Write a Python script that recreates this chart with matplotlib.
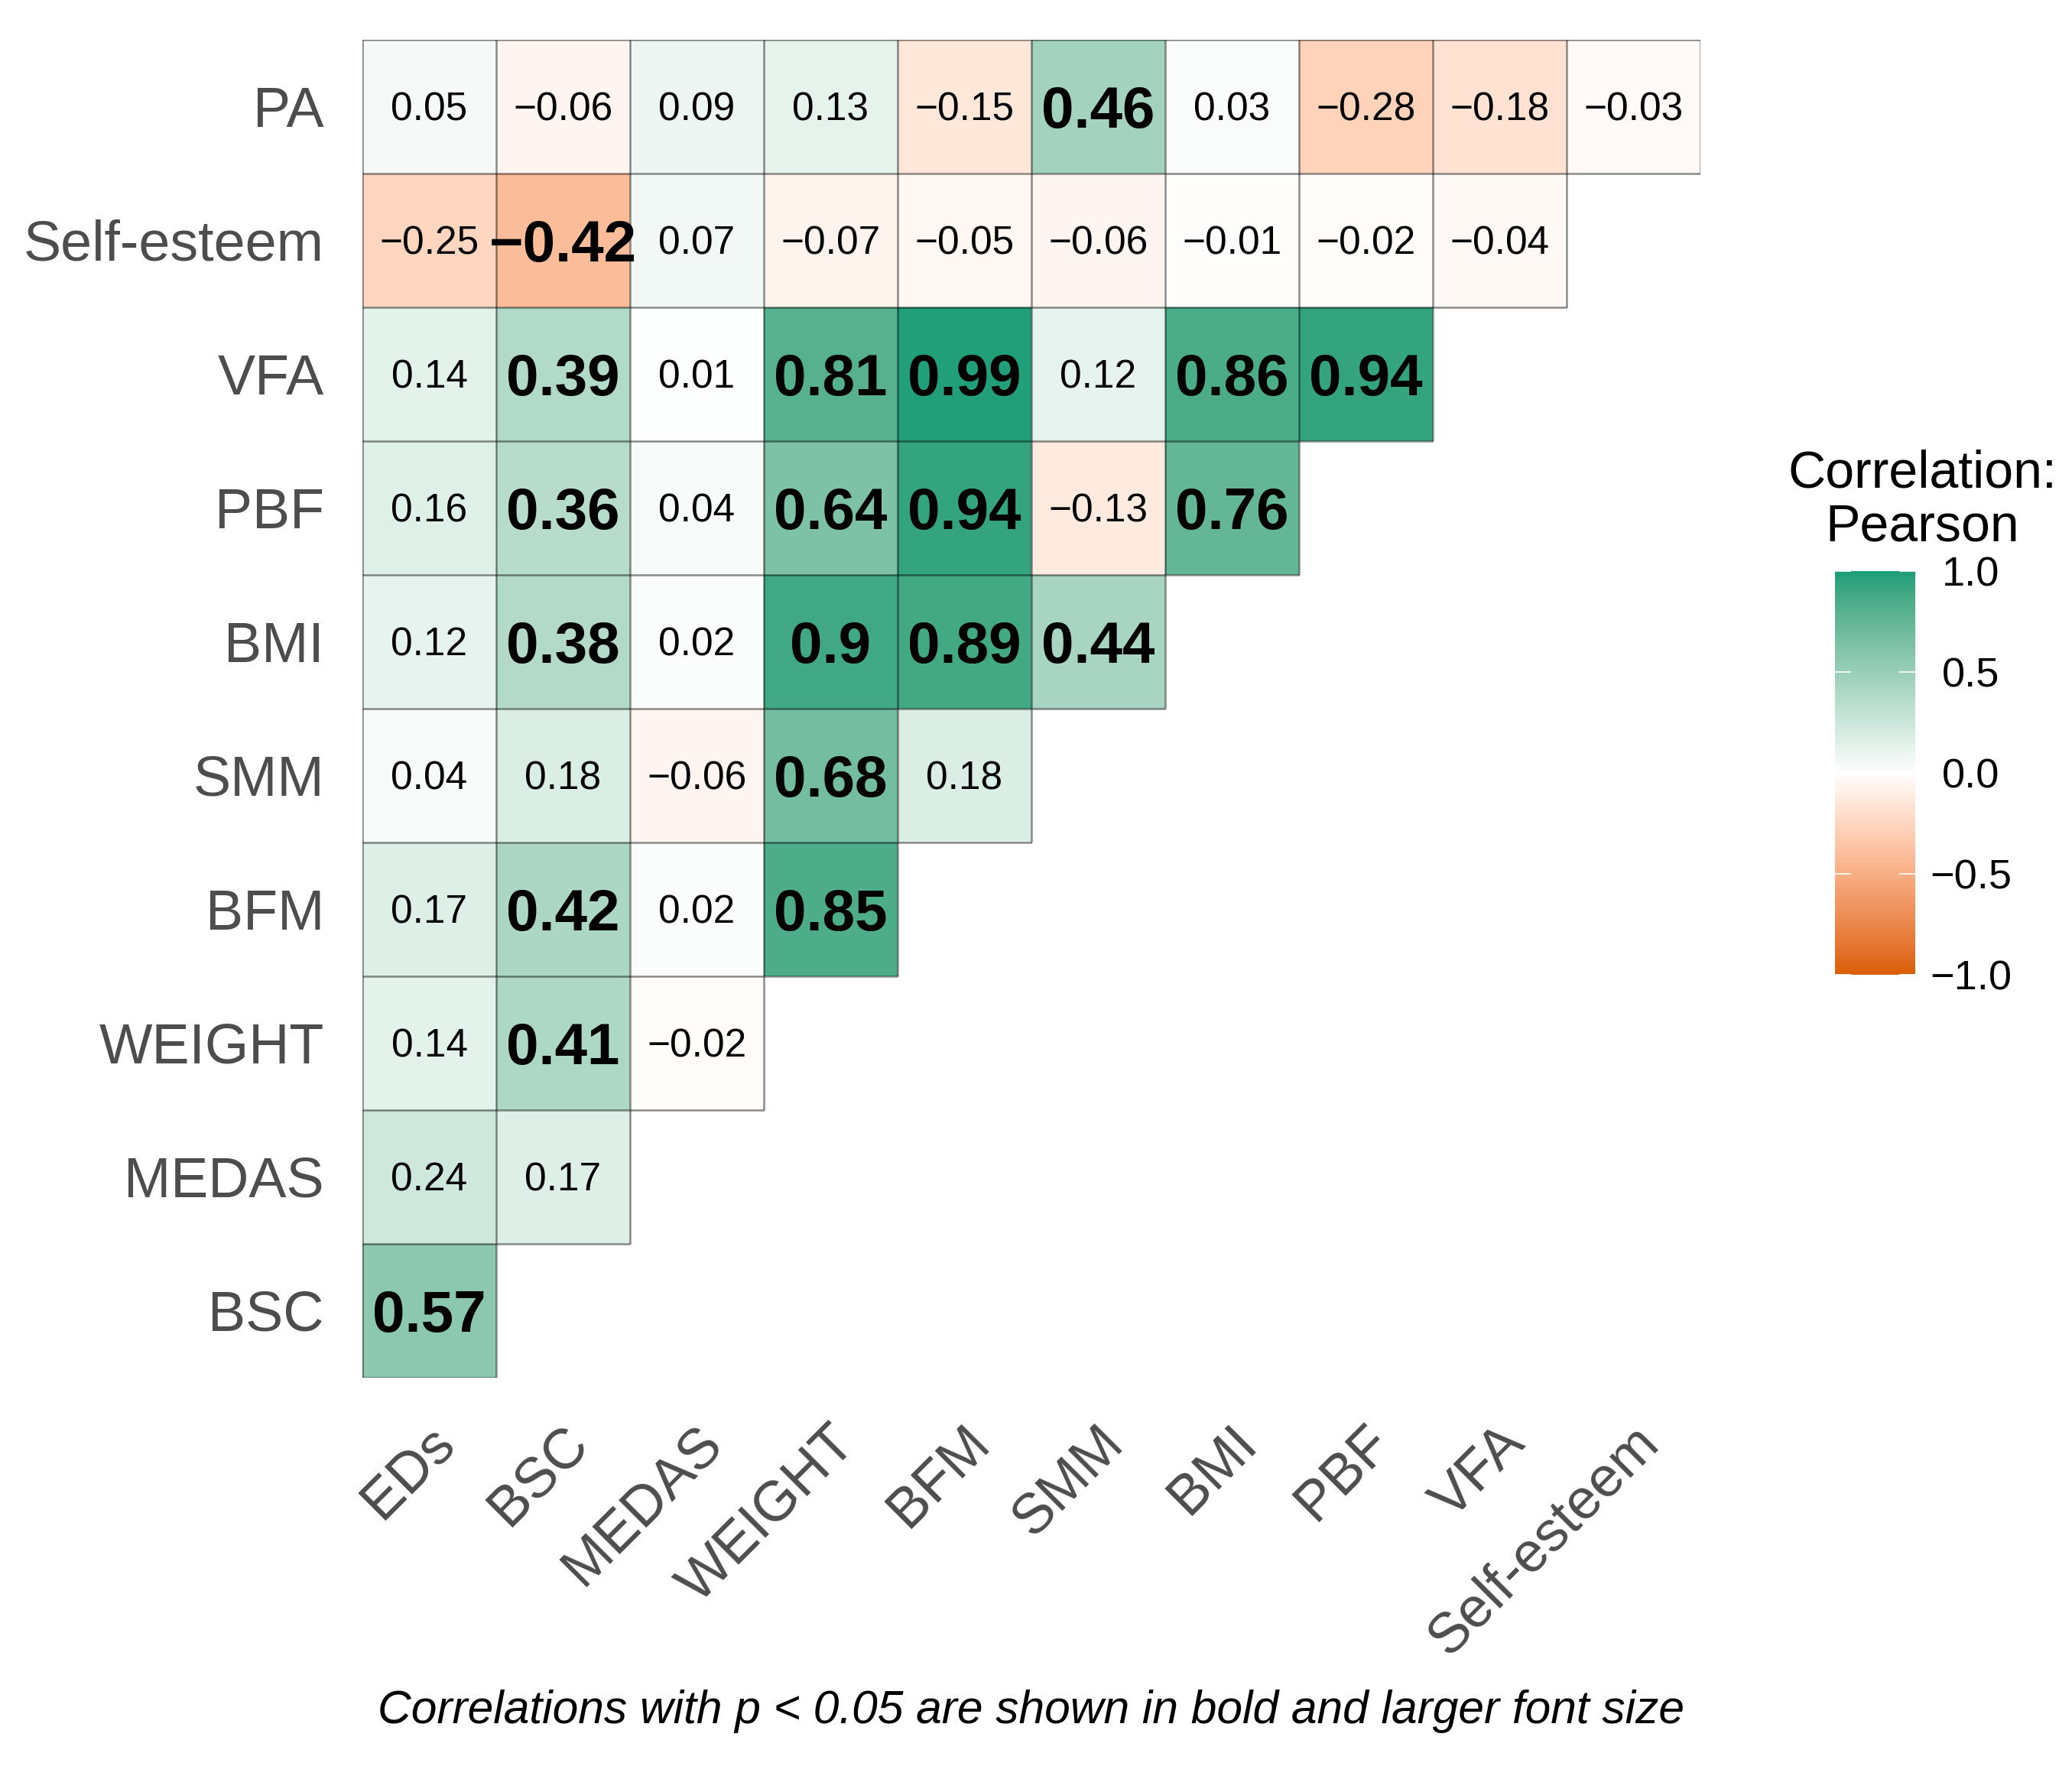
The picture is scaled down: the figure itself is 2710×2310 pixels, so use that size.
import numpy as np
import matplotlib
matplotlib.use("Agg")
import matplotlib.pyplot as plt
from matplotlib.colors import ListedColormap, Normalize
from matplotlib.collections import LineCollection
from matplotlib.patches import Rectangle

plt.rcParams['font.family'] = ['Liberation Sans', 'DejaVu Sans']

# ---------------- data ----------------
col_labels = ["EDs", "BSC", "MEDAS", "WEIGHT", "BFM", "SMM", "BMI", "PBF", "VFA", "Self-esteem"]
row_labels = ["PA", "Self-esteem", "VFA", "PBF", "BMI", "SMM", "BFM", "WEIGHT", "MEDAS", "BSC"]

r_PA = [0.05, -0.06, 0.09, 0.13, -0.15, 0.46, 0.03, -0.28, -0.18, -0.03]
r_SelfEsteem = [-0.25, -0.42, 0.07, -0.07, -0.05, -0.06, -0.01, -0.02, -0.04]
r_VFA = [0.14, 0.39, 0.01, 0.81, 0.99, 0.12, 0.86, 0.94]
r_PBF = [0.16, 0.36, 0.04, 0.64, 0.94, -0.13, 0.76]
r_BMI = [0.12, 0.38, 0.02, 0.90, 0.89, 0.44]
r_SMM = [0.04, 0.18, -0.06, 0.68, 0.18]
r_BFM = [0.17, 0.42, 0.02, 0.85]
r_WEIGHT = [0.14, 0.41, -0.02]
r_MEDAS = [0.24, 0.17]
r_BSC = [0.57]

sig_PA = [0, 0, 0, 0, 0, 1, 0, 0, 0, 0]
sig_SelfEsteem = [0, 1, 0, 0, 0, 0, 0, 0, 0]
sig_VFA = [0, 1, 0, 1, 1, 0, 1, 1]
sig_PBF = [0, 1, 0, 1, 1, 0, 1]
sig_BMI = [0, 1, 0, 1, 1, 1]
sig_SMM = [0, 0, 0, 1, 0]
sig_BFM = [0, 1, 0, 1]
sig_WEIGHT = [0, 1, 0]
sig_MEDAS = [0, 0]
sig_BSC = [1]

rows_r = [r_PA, r_SelfEsteem, r_VFA, r_PBF, r_BMI, r_SMM, r_BFM, r_WEIGHT, r_MEDAS, r_BSC]
rows_sig = [sig_PA, sig_SelfEsteem, sig_VFA, sig_PBF, sig_BMI, sig_SMM, sig_BFM, sig_WEIGHT, sig_MEDAS, sig_BSC]

legend_ticks = [1.0, 0.5, 0.0, -0.5, -1.0]
caption = "Correlations with p < 0.05 are shown in bold and larger font size"

# ---------------- colour scale (Lab interpolation, like ggplot gradient2) ----------------
def hex2rgb(h):
    h = h.lstrip('#')
    return np.array([int(h[i:i + 2], 16) / 255 for i in (0, 2, 4)])

def srgb_to_lab(rgb):
    rgb = np.where(rgb <= 0.04045, rgb / 12.92, ((rgb + 0.055) / 1.055) ** 2.4)
    M = np.array([[0.4124564, 0.3575761, 0.1804375],
                  [0.2126729, 0.7151522, 0.0721750],
                  [0.0193339, 0.1191920, 0.9503041]])
    xyz = M @ rgb
    xyz = xyz / np.array([0.95047, 1.0, 1.08883])
    f = np.where(xyz > (6 / 29) ** 3, np.cbrt(xyz), xyz / (3 * (6 / 29) ** 2) + 4 / 29)
    return np.array([116 * f[1] - 16, 500 * (f[0] - f[1]), 200 * (f[1] - f[2])])

def lab_to_srgb(lab):
    L, a, b = lab
    fy_ = (L + 16) / 116
    fx_ = fy_ + a / 500
    fz_ = fy_ - b / 200
    f = np.array([fx_, fy_, fz_])
    xyz = np.where(f > 6 / 29, f ** 3, 3 * (6 / 29) ** 2 * (f - 4 / 29))
    xyz = xyz * np.array([0.95047, 1.0, 1.08883])
    Minv = np.array([[3.2404542, -1.5371385, -0.4985314],
                     [-0.9692660, 1.8760108, 0.0415560],
                     [0.0556434, -0.2040259, 1.0572252]])
    rgb = Minv @ xyz
    rgb = np.where(rgb <= 0.0031308, 12.92 * rgb, 1.055 * np.clip(rgb, 0, None) ** (1 / 2.4) - 0.055)
    return np.clip(rgb, 0, 1)

low_lab = srgb_to_lab(hex2rgb('#D95F02'))
mid_lab = srgb_to_lab(hex2rgb('#FFFFFF'))
high_lab = srgb_to_lab(hex2rgb('#1B9E77'))
vals = np.linspace(-1, 1, 401)
cols = []
for v in vals:
    if v < 0:
        lab = mid_lab + (-v) * (low_lab - mid_lab)
    else:
        lab = mid_lab + v * (high_lab - mid_lab)
    cols.append(lab_to_srgb(lab))
cmap = ListedColormap(cols)
norm = Normalize(-1, 1)

# ---------------- figure ----------------
W, H = 2710, 2310
DPI = 200
fig = plt.figure(figsize=(W / DPI, H / DPI), dpi=DPI)
fig.patch.set_facecolor('white')

def fx(x):
    return x / W

def fy(y):
    return 1 - y / H

gx0, gx1, gy0, gy1 = 474, 2224, 52, 1802
ax = fig.add_axes([fx(gx0), fy(gy1), (gx1 - gx0) / W, (gy1 - gy0) / H])
ax.set_xlim(0, 10)
ax.set_ylim(0, 10)
ax.axis('off')

cell_px = (gx1 - gx0) / 10.0

def half_cap(fs):
    return 0.716 * fs * DPI / 72 / 2 / cell_px

fs_norm, fs_bold = 18.5, 27.5
segs = set()
for i, (rr, ss) in enumerate(zip(rows_r, rows_sig)):
    y0 = 9 - i
    for j, (v, s) in enumerate(zip(rr, ss)):
        ax.add_patch(Rectangle((j, y0), 1, 1, facecolor=cmap(norm(v)), edgecolor='none', zorder=1))
        for seg in [((j, y0), (j + 1, y0)), ((j, y0 + 1), (j + 1, y0 + 1)),
                    ((j, y0), (j, y0 + 1)), ((j + 1, y0), (j + 1, y0 + 1))]:
            segs.add(seg)
        lab = f"{v:.2f}".rstrip('0').rstrip('.') if abs(v) > 0 else "0"
        lab = lab.replace('-', '\u2212')
        fs = fs_bold if s else fs_norm
        ax.text(j + 0.5, y0 + 0.5 - half_cap(fs), lab, ha='center', va='baseline',
                fontsize=fs, fontweight='bold' if s else 'normal', color='black', zorder=3)

lc = LineCollection(list(segs), colors=[(0, 0, 0, 0.45)], linewidths=0.9, zorder=2)
ax.add_collection(lc)

# y labels
for i, name in enumerate(row_labels):
    ax.text(-50 / cell_px, 9.5 - i - half_cap(26.5), name, ha='right', va='baseline',
            fontsize=26.5, color='#4D4D4D', clip_on=False)

# x labels
for j, name in enumerate(col_labels):
    ax.text(j + 0.5 - 3 / cell_px, -50 / cell_px, name, ha='right', va='top',
            rotation=45, rotation_mode='anchor', fontsize=26.5, color='#4D4D4D', clip_on=False)

# caption
fig.text(fx(1349), fy(2254), caption, ha='center', va='baseline', fontsize=21.8,
         style='italic', color='black')

# ---------------- legend colourbar ----------------
cb_x0, cb_x1, cb_top, cb_bot = 2400, 2505, 747, 1275
cax = fig.add_axes([fx(cb_x0), fy(cb_bot), (cb_x1 - cb_x0) / W, (cb_bot - cb_top) / H])
grad = np.linspace(-1, 1, 300).reshape(-1, 1)
cax.imshow(grad, aspect='auto', cmap=cmap, norm=norm, extent=[0, 1, -1, 1], origin='lower',
           interpolation='bilinear')
cax.set_xlim(0, 1)
cax.set_ylim(-1, 1)
cax.axis('off')
fs_leg = 19.5
for t in legend_ticks:
    cax.plot([0, 0.2], [t, t], color='white', lw=0.6, solid_capstyle='butt')
    cax.plot([0.8, 1], [t, t], color='white', lw=0.6, solid_capstyle='butt')
    ypx = cb_bot - (t + 1) / 2 * (cb_bot - cb_top)
    lab = f"{t:.1f}".replace('-', '\u2212')
    cap_half_px = 0.716 * fs_leg * DPI / 72 / 2
    fig.text(fx(2578), fy(ypx + cap_half_px), lab, ha='center', va='baseline',
             fontsize=fs_leg, color='black')

fig.text(fx(2514), fy(638), "Correlation:", ha='center', va='baseline', fontsize=24.5, color='black')
fig.text(fx(2514), fy(708), "Pearson", ha='center', va='baseline', fontsize=24.5, color='black')

fig.savefig("out.png", dpi=DPI, facecolor='white')
